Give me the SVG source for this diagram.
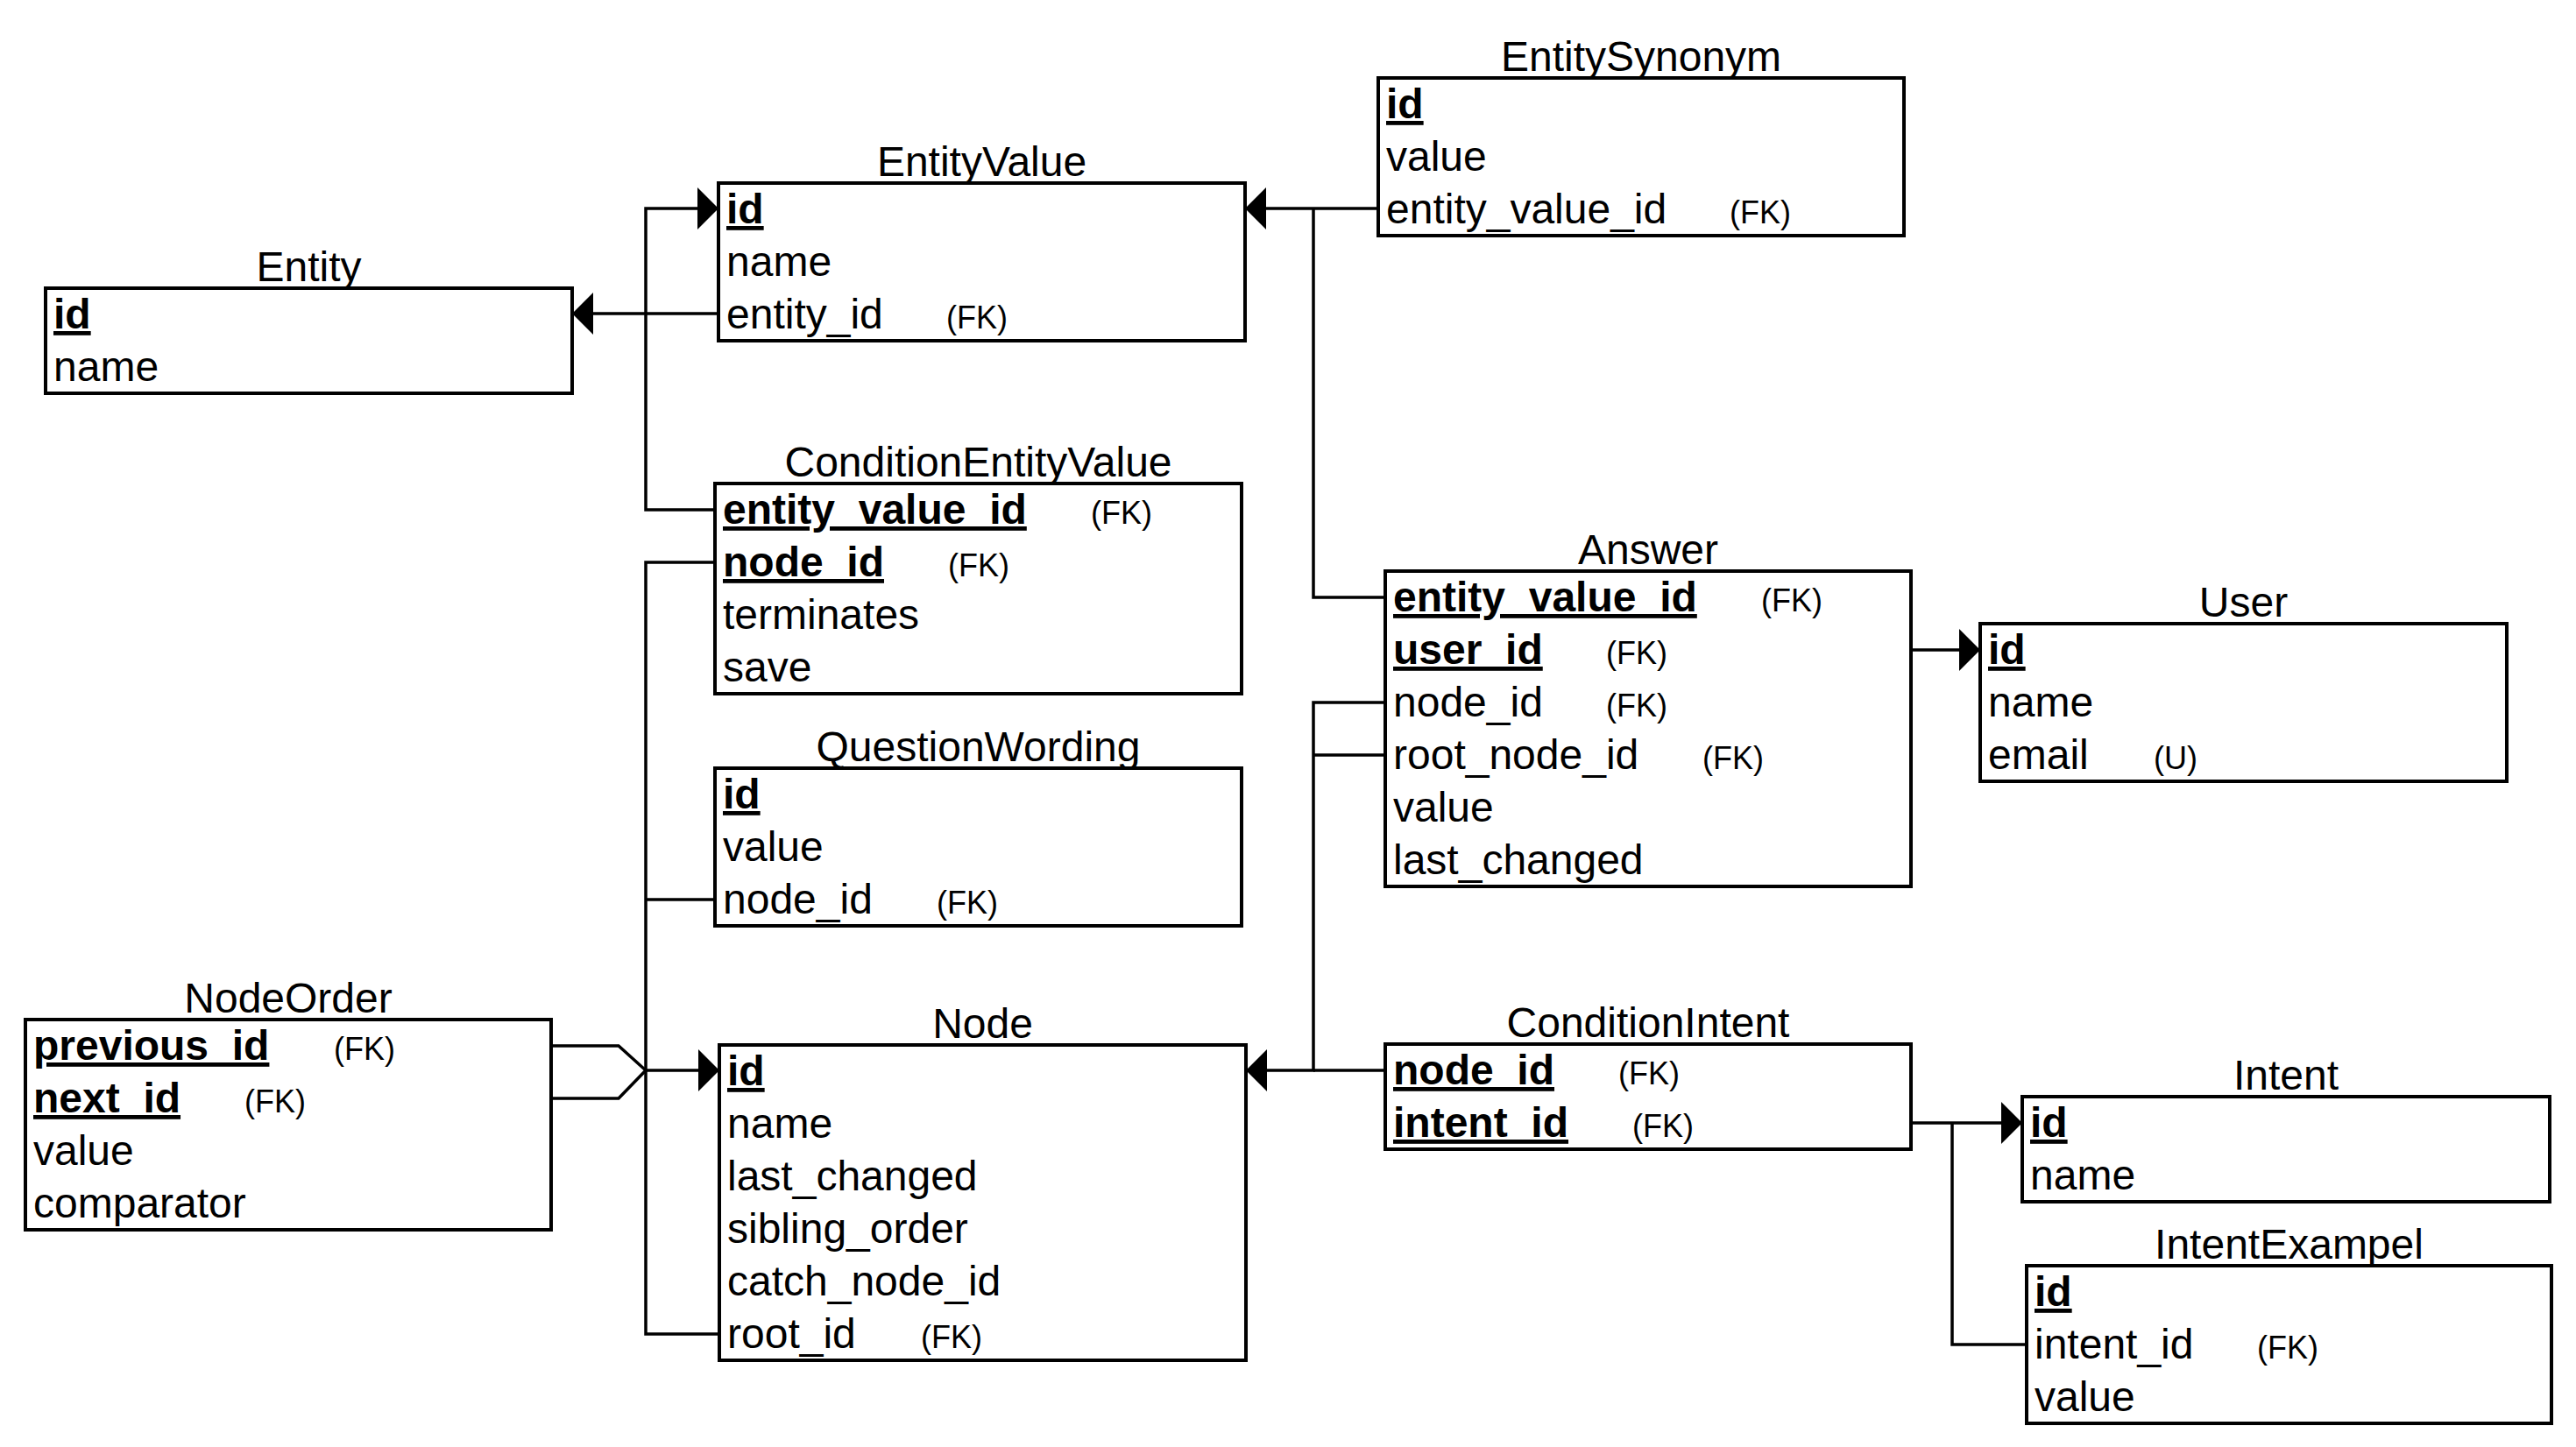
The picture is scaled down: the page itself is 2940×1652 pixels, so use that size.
<svg xmlns="http://www.w3.org/2000/svg" width="2940" height="1652" viewBox="0 0 2940 1652">
<style>
text{font-family:"Liberation Sans",Arial,Helvetica,sans-serif;fill:#000}
.t{font-size:48px}
.b{font-size:48px;font-weight:bold;text-decoration:underline}
.fk{font-size:36px}
.title{font-size:48px;text-anchor:middle}
.box{fill:#fff;stroke:#000;stroke-width:4}
.conn path{fill:none;stroke:#000;stroke-width:3.5}
</style>
<defs>
<marker id="arr" markerUnits="userSpaceOnUse" markerWidth="26" markerHeight="50" refX="24" refY="24" orient="auto" viewBox="0 0 26 50">
<path d="M0,0 L24,24 L0,48 Z" fill="#000"/>
</marker>
</defs>
<rect width="2940" height="1652" fill="#fff"/>

<g id="connectors" class="conn">
<path d="M820,358 H653" marker-end="url(#arr)"/>
<path d="M816,582 H737 V238 H820" marker-end="url(#arr)"/>
<path d="M1573,238 H1421" marker-end="url(#arr)"/>
<path d="M1581,682 H1499 V238"/>
<path d="M816,642 H737 V1222 H821" marker-end="url(#arr)"/>
<path d="M816,1027 H737"/>
<path d="M821,1523 H737 V1222"/>
<path d="M629,1194 H706 L737,1222 L706,1254 H629"/>
<path d="M1581,802 H1499 V1222 H1422" marker-end="url(#arr)"/>
<path d="M1581,862 H1499"/>
<path d="M1581,1222 H1499"/>
<path d="M2181,742 H2260" marker-end="url(#arr)"/>
<path d="M2181,1282 H2308" marker-end="url(#arr)"/>
<path d="M2313,1535 H2228 V1282"/>
</g>

<g id="Entity">
<text class="title" x="352.5" y="321">Entity</text>
<rect class="box" x="52" y="329" width="601" height="120"/>
<text class="b" x="61" y="375">id</text>
<text class="t" x="61" y="435">name</text>
</g>

<g id="EntityValue">
<text class="title" x="1120.5" y="201">EntityValue</text>
<rect class="box" x="820" y="209" width="601" height="180"/>
<text class="b" x="829" y="255">id</text>
<text class="t" x="829" y="315">name</text>
<text class="t" x="829" y="375">entity_id</text>
<text class="fk" x="1080" y="375">(FK)</text>
</g>

<g id="EntitySynonym">
<text class="title" x="1873" y="81">EntitySynonym</text>
<rect class="box" x="1573" y="89" width="600" height="180"/>
<text class="b" x="1582" y="135">id</text>
<text class="t" x="1582" y="195">value</text>
<text class="t" x="1582" y="255">entity_value_id</text>
<text class="fk" x="1974" y="255">(FK)</text>
</g>

<g id="ConditionEntityValue">
<text class="title" x="1116.5" y="544">ConditionEntityValue</text>
<rect class="box" x="816" y="552" width="601" height="240"/>
<text class="b" x="825" y="598">entity_value_id</text>
<text class="fk" x="1245" y="598">(FK)</text>
<text class="b" x="825" y="658">node_id</text>
<text class="fk" x="1082" y="658">(FK)</text>
<text class="t" x="825" y="718">terminates</text>
<text class="t" x="825" y="778">save</text>
</g>

<g id="QuestionWording">
<text class="title" x="1116.5" y="869">QuestionWording</text>
<rect class="box" x="816" y="877" width="601" height="180"/>
<text class="b" x="825" y="923">id</text>
<text class="t" x="825" y="983">value</text>
<text class="t" x="825" y="1043">node_id</text>
<text class="fk" x="1069" y="1043">(FK)</text>
</g>

<g id="NodeOrder">
<text class="title" x="329" y="1156">NodeOrder</text>
<rect class="box" x="29" y="1164" width="600" height="240"/>
<text class="b" x="38" y="1210">previous_id</text>
<text class="fk" x="381" y="1210">(FK)</text>
<text class="b" x="38" y="1270">next_id</text>
<text class="fk" x="279" y="1270">(FK)</text>
<text class="t" x="38" y="1330">value</text>
<text class="t" x="38" y="1390">comparator</text>
</g>

<g id="Node">
<text class="title" x="1121.5" y="1185">Node</text>
<rect class="box" x="821" y="1193" width="601" height="360"/>
<text class="b" x="830" y="1239">id</text>
<text class="t" x="830" y="1299">name</text>
<text class="t" x="830" y="1359">last_changed</text>
<text class="t" x="830" y="1419">sibling_order</text>
<text class="t" x="830" y="1479">catch_node_id</text>
<text class="t" x="830" y="1539">root_id</text>
<text class="fk" x="1051" y="1539">(FK)</text>
</g>

<g id="Answer">
<text class="title" x="1881" y="644">Answer</text>
<rect class="box" x="1581" y="652" width="600" height="360"/>
<text class="b" x="1590" y="698">entity_value_id</text>
<text class="fk" x="2010" y="698">(FK)</text>
<text class="b" x="1590" y="758">user_id</text>
<text class="fk" x="1833" y="758">(FK)</text>
<text class="t" x="1590" y="818">node_id</text>
<text class="fk" x="1833" y="818">(FK)</text>
<text class="t" x="1590" y="878">root_node_id</text>
<text class="fk" x="1943" y="878">(FK)</text>
<text class="t" x="1590" y="938">value</text>
<text class="t" x="1590" y="998">last_changed</text>
</g>

<g id="User">
<text class="title" x="2560.5" y="704">User</text>
<rect class="box" x="2260" y="712" width="601" height="180"/>
<text class="b" x="2269" y="758">id</text>
<text class="t" x="2269" y="818">name</text>
<text class="t" x="2269" y="878">email</text>
<text class="fk" x="2458" y="878">(U)</text>
</g>

<g id="ConditionIntent">
<text class="title" x="1881" y="1184">ConditionIntent</text>
<rect class="box" x="1581" y="1192" width="600" height="120"/>
<text class="b" x="1590" y="1238">node_id</text>
<text class="fk" x="1847" y="1238">(FK)</text>
<text class="b" x="1590" y="1298">intent_id</text>
<text class="fk" x="1863" y="1298">(FK)</text>
</g>

<g id="Intent">
<text class="title" x="2609" y="1244">Intent</text>
<rect class="box" x="2308" y="1252" width="602" height="120"/>
<text class="b" x="2317" y="1298">id</text>
<text class="t" x="2317" y="1358">name</text>
</g>

<g id="IntentExampel">
<text class="title" x="2612.5" y="1437">IntentExampel</text>
<rect class="box" x="2313" y="1445" width="599" height="180"/>
<text class="b" x="2322" y="1491">id</text>
<text class="t" x="2322" y="1551">intent_id</text>
<text class="fk" x="2576" y="1551">(FK)</text>
<text class="t" x="2322" y="1611">value</text>
</g>
</svg>
